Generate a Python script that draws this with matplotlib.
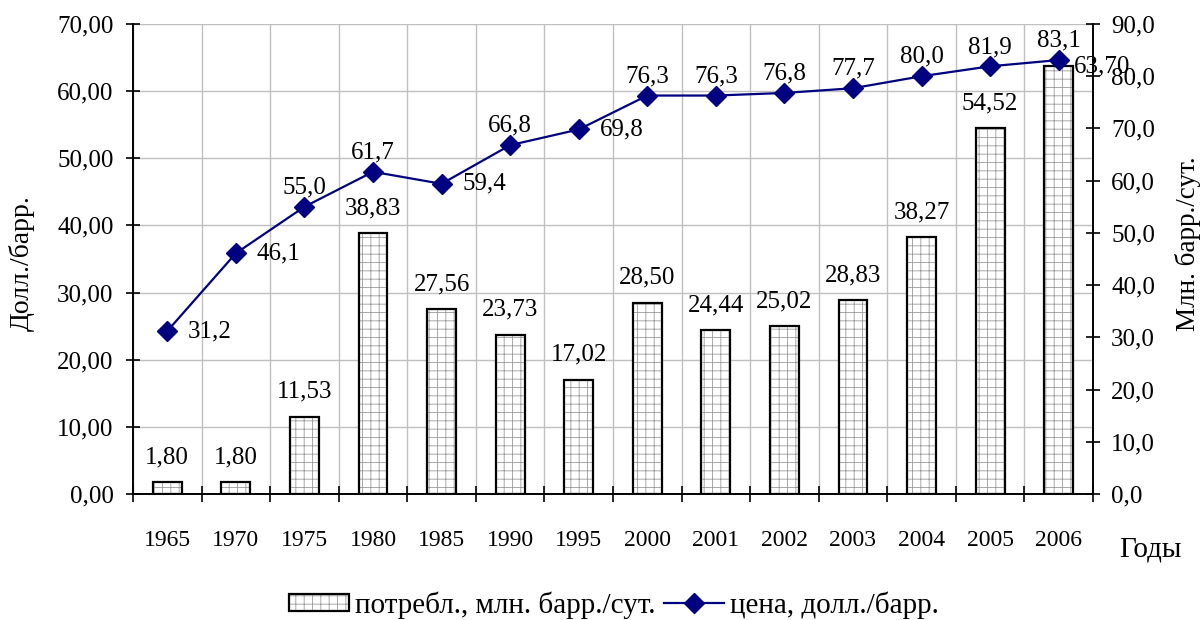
import matplotlib.pyplot as plt
import numpy as np

plt.rcParams['font.family'] = ['Liberation Serif', 'DejaVu Serif']
plt.rcParams['hatch.linewidth'] = 0.6

years = ['1965', '1970', '1975', '1980', '1985', '1990', '1995',
         '2000', '2001', '2002', '2003', '2004', '2005', '2006']
consumption = [1.80, 1.80, 11.53, 38.83, 27.56, 23.73, 17.02,
               28.50, 24.44, 25.02, 28.83, 38.27, 54.52, 63.70]
price = [31.2, 46.1, 55.0, 61.7, 59.4, 66.8, 69.8,
         76.3, 76.3, 76.8, 77.7, 80.0, 81.9, 83.1]
# where the price label sits relative to its point
price_label_side = ['right', 'right', 'top', 'top', 'right', 'top', 'right',
                    'top', 'top', 'top', 'top', 'top', 'top', 'top']

fs = 18
x = np.arange(len(years))

fig = plt.figure(figsize=(12.01, 6.2), dpi=100)
ax = fig.add_axes([133 / 1201, 1 - 494 / 620, (1093 - 133) / 1201, 470 / 620])
ax2 = ax.twinx()

# bars: hatch layer + black outline layer
b_hatch = ax.bar(x, consumption, width=0.42, color='white', edgecolor='#9a9a9a',
                 hatch='++', linewidth=0, zorder=2)
b_edge = ax.bar(x, consumption, width=0.42, color='none', edgecolor='black',
                linewidth=1.6, zorder=3)

for i, v in enumerate(consumption):
    txt = f'{v:.2f}'.replace('.', ',')
    if i == len(consumption) - 1:
        ax.annotate(txt, (x[i], v), xytext=(11, 0), textcoords='offset points',
                    ha='left', va='center', fontsize=fs, zorder=6)
    else:
        ax.annotate(txt, (x[i], v), xytext=(0, 10), textcoords='offset points',
                    ha='center', va='bottom', fontsize=fs, zorder=6)

line, = ax2.plot(x, price, color='#000080', linewidth=1.6, marker='D',
                 markersize=10, zorder=5)
for i, v in enumerate(price):
    txt = f'{v:.1f}'.replace('.', ',')
    if price_label_side[i] == 'right':
        ax2.annotate(txt, (x[i], v), xytext=(15, 0), textcoords='offset points',
                     ha='left', va='center', fontsize=fs)
    else:
        ax2.annotate(txt, (x[i], v), xytext=(0, 6), textcoords='offset points',
                     ha='center', va='bottom', fontsize=fs)

ax.set_xlim(-0.5, len(years) - 0.5)
ax.set_ylim(0, 70)
ax2.set_ylim(0, 90)
ax.set_yticks(np.arange(0, 71, 10))
ax2.set_yticks(np.arange(0, 91, 10))
ax.set_yticklabels([f'{t:.2f}'.replace('.', ',') for t in np.arange(0, 71, 10)])
ax2.set_yticklabels([f'{t:.1f}'.replace('.', ',') for t in np.arange(0, 91, 10)])

ax.set_xticks(x)
ax.set_xticklabels(years)
ax.set_xticks(np.arange(-0.5, len(years), 1), minor=True)
ax.tick_params(axis='x', which='major', length=0, pad=26, labelsize=fs - 1)
ax.tick_params(axis='x', which='minor', direction='inout', length=12, width=1.2)
ax.tick_params(axis='y', direction='inout', length=10, width=1.2, pad=9, labelsize=fs)
ax2.tick_params(axis='y', direction='inout', length=10, width=1.2, pad=8, labelsize=fs)

ax.grid(True, which='minor', axis='x', color='#c0c0c0', linewidth=1)
ax.grid(True, which='major', axis='y', color='#c0c0c0', linewidth=1)
ax.set_axisbelow(True)

for a in (ax, ax2):
    a.spines['top'].set_visible(False)
    a.spines['left'].set_linewidth(1.2)
    a.spines['right'].set_linewidth(1.2)
    a.spines['bottom'].set_linewidth(1.2)

fig.text(22 / 1201, 1 - 263 / 620, 'Долл./барр.', rotation=90, ha='center',
         va='center', fontsize=20)
fig.text(1188 / 1201, 1 - 244 / 620, 'Млн. барр./сут.', rotation=90, ha='center',
         va='center', fontsize=19.5)
fig.text(1150 / 1201, 1 - 550 / 620, 'Годы', ha='center', va='center', fontsize=21)

fig.legend([(b_hatch[0], b_edge[0]), line],
           ['потребл., млн. барр./сут.', 'цена, долл./барр.'],
           loc='center', bbox_to_anchor=(614 / 1201, 1 - 605 / 620), ncol=2,
           frameon=False, fontsize=21, handlelength=2.05, handletextpad=0.2,
           columnspacing=0.3, handleheight=0.55)

fig.savefig('out.png', dpi=100)
